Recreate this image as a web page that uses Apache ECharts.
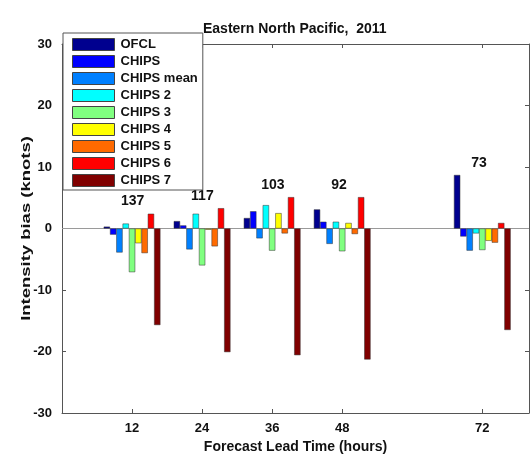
<!DOCTYPE html>
<html>
<head>
<meta charset="utf-8">
<script src="https://cdn.jsdelivr.net/npm/echarts@6/dist/echarts.min.js"></script>
<style>
html,body{margin:0;padding:0;background:#fff;}
#chart{width:532px;height:454px;}
</style>
</head>
<body>
<div id="chart"></div>
<script>
// ---- data ----
var leadTimes = [12, 24, 36, 48, 72];
var caseCounts = [137, 117, 103, 92, 73];
var seriesNames = ['OFCL', 'CHIPS', 'CHIPS mean', 'CHIPS 2', 'CHIPS 3', 'CHIPS 4', 'CHIPS 5', 'CHIPS 6', 'CHIPS 7'];
var OFCL       = [0.3, 1.2, 1.7, 3.1, 8.7];
var CHIPS      = [-1.0, 0.5, 2.8, 1.1, -1.3];
var CHIPS_mean = [-3.9, -3.4, -1.6, -2.5, -3.6];
var CHIPS_2    = [0.8, 2.4, 3.8, 1.1, -0.8];
var CHIPS_3    = [-7.1, -6.0, -3.6, -3.7, -3.5];
var CHIPS_4    = [-2.4, -0.2, 2.5, 0.9, -2.0];
var CHIPS_5    = [-4.0, -2.9, -0.8, -0.9, -2.3];
var CHIPS_6    = [2.4, 3.3, 5.1, 5.1, 0.9];
var CHIPS_7    = [-15.7, -20.1, -20.6, -21.3, -16.5];
var yTicks = [-30, -20, -10, 0, 10, 20, 30];
var xTicks = [12, 24, 36, 48, 72];

var allValues = [OFCL, CHIPS, CHIPS_mean, CHIPS_2, CHIPS_3, CHIPS_4, CHIPS_5, CHIPS_6, CHIPS_7];
var colors = ['#00008f', '#0000ff', '#0080ff', '#00ffff', '#80ff80', '#ffff00', '#ff6a00', '#ff0000', '#800000'];

var FONT = 'Liberation Sans, Arial, sans-serif';

var series = [];
series.push({
  type: 'line',
  data: [[0, 0], [80, 0]],
  symbol: 'none',
  lineStyle: {color: '#9a9a9a', width: 1},
  silent: true,
  z: 1,
  legendHoverLink: false
});
seriesNames.forEach(function (name, i) {
  series.push({
    name: name,
    type: 'bar',
    data: leadTimes.map(function (t, j) { return [t, allValues[i][j]]; }),
    barWidth: 6.3,
    barGap: '0%',
    itemStyle: {color: colors[i], borderColor: '#333', borderWidth: 0.5},
    z: 2
  });
});
// case count labels, placed 2 knots above the tallest bar of each group
var labelData = leadTimes.map(function (t, j) {
  var mx = -Infinity;
  allValues.forEach(function (arr) { mx = Math.max(mx, arr[j]); });
  return {value: [t, mx + 2], count: caseCounts[j]};
});
series.push({
  type: 'scatter',
  data: labelData,
  symbol: 'circle',
  symbolSize: 0,
  itemStyle: {color: '#111', opacity: 1},
  silent: true,
  z: 3,
  label: {
    show: true,
    position: [-11, 0],
    align: 'left',
    verticalAlign: 'middle',
    formatter: function (p) { return String(p.data.count); },
    color: '#111',
    opacity: 1,
    fontFamily: FONT,
    fontWeight: 'bold',
    fontSize: 14
  }
});

var chart = echarts.init(document.getElementById('chart'), null, {renderer: 'canvas'});
chart.setOption({
  animation: false,
  backgroundColor: '#fff',
  title: {
    text: 'Eastern North Pacific,  2011',
    left: 203,
    top: 22,
    padding: 0,
    textStyle: {fontFamily: FONT, fontWeight: 'bold', fontSize: 14, color: '#111'}
  },
  grid: {left: 62, top: 44, width: 467, height: 369, containLabel: false, outerBoundsMode: 'none'},
  legend: {
    data: seriesNames,
    orient: 'vertical',
    left: 63,
    top: 33,
    padding: [5, 5, 3, 9],
    itemWidth: 42,
    itemHeight: 12,
    itemGap: 4,
    icon: 'rect',
    backgroundColor: '#fff',
    borderColor: '#555',
    borderWidth: 1,
    borderRadius: 0,
    z: 10,
    selectedMode: false,
    itemStyle: {borderColor: '#444', borderWidth: 1},
    textStyle: {fontFamily: FONT, fontWeight: 'bold', fontSize: 13, color: '#111', padding: [0, 0, 0, 1]}
  },
  graphic: [{
    type: 'text',
    x: 26,
    y: 228.5,
    rotation: Math.PI / 2,
    scaleX: 1.42,
    scaleY: 1,
    z: 20,
    style: {
      text: 'Intensity bias (knots)',
      fontFamily: FONT,
      fontWeight: 'bold',
      fontSize: 13,
      fill: '#111',
      align: 'center',
      verticalAlign: 'middle'
    }
  }],
  xAxis: [{
    type: 'value',
    min: 0, max: 80,
    position: 'bottom',
    name: 'Forecast Lead Time (hours)',
    nameLocation: 'middle',
    nameGap: 25,
    nameTextStyle: {fontFamily: FONT, fontWeight: 'bold', fontSize: 14, color: '#111', verticalAlign: 'top'},
    axisLine: {show: true, onZero: false, lineStyle: {color: '#555', width: 1}},
    axisTick: {show: true, inside: true, length: 4, customValues: xTicks, lineStyle: {color: '#555'}},
    axisLabel: {show: true, customValues: xTicks, margin: 9, fontFamily: FONT, fontWeight: 'bold', fontSize: 13, color: '#111'},
    splitLine: {show: false}
  }, {
    type: 'value',
    min: 0, max: 80,
    position: 'top',
    axisLine: {show: true, onZero: false, lineStyle: {color: '#555', width: 1}},
    axisTick: {show: true, inside: true, length: 4, customValues: xTicks, lineStyle: {color: '#555'}},
    axisLabel: {show: false},
    splitLine: {show: false}
  }],
  yAxis: [{
    type: 'value',
    min: -30, max: 30, interval: 10,
    position: 'left',
    axisLine: {show: true, onZero: false, lineStyle: {color: '#555', width: 1}},
    axisTick: {show: true, inside: true, length: 4, lineStyle: {color: '#555'}},
    axisLabel: {show: true, margin: 10, fontFamily: FONT, fontWeight: 'bold', fontSize: 13, color: '#111'},
    splitLine: {show: false}
  }, {
    type: 'value',
    min: -30, max: 30, interval: 10,
    position: 'right',
    axisLine: {show: true, onZero: false, lineStyle: {color: '#555', width: 1}},
    axisTick: {show: true, inside: true, length: 4, lineStyle: {color: '#555'}},
    axisLabel: {show: false},
    splitLine: {show: false}
  }],
  series: series
});
</script>
</body>
</html>
